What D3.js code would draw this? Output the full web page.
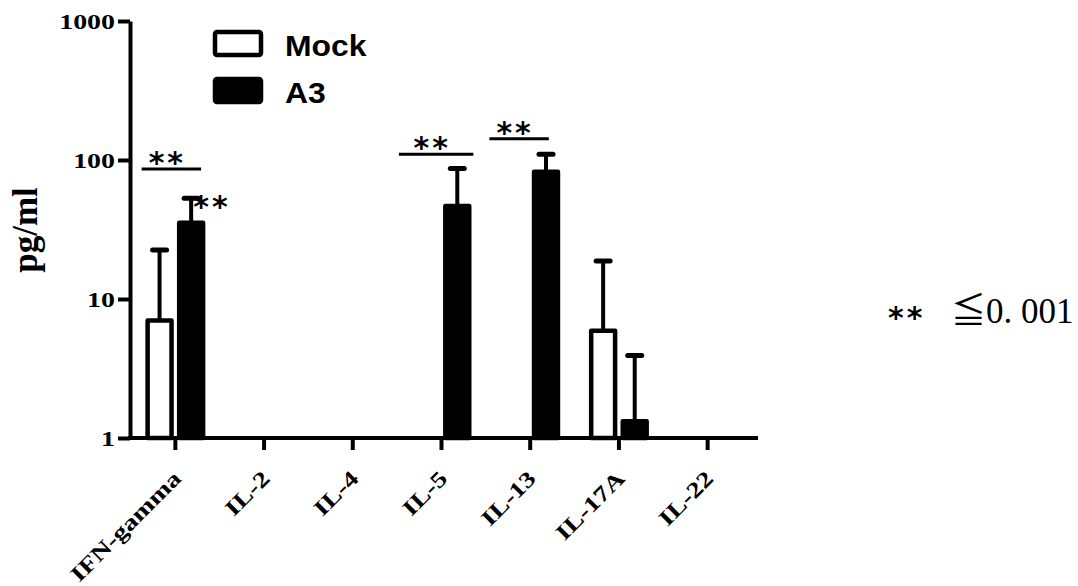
<!DOCTYPE html>
<html>
<head>
<meta charset="utf-8">
<script src="https://cdn.jsdelivr.net/npm/d3@7"></script>
<style>
  body { margin: 0; background: #fff; }
  svg { display: block; }
</style>
</head>
<body>
<div id="chart"></div>
<script>
// data
var categories = ["IFN-gamma", "IL-2", "IL-4", "IL-5", "IL-13", "IL-17A", "IL-22"];
var series = ["Mock", "A3"];
var mockMean = [7.0, null, null, null, null, 5.9, null];
var mockSD = [15.5, null, null, null, null, 12.9, null];
var a3Mean = [35.4, null, null, 46.7, 82.4, 1.32, null];
var a3SD = [17.6, null, null, 40.3, 27.6, 2.6, null];
var yTicks = [1, 10, 100, 1000];

// significance marks: category, level of the line (pg/ml), left/right extent in band steps
var sigBars = [
  { cat: "IFN-gamma", level: 86, from: -0.38, to: 0.29 },
  { cat: "IL-5", level: 110, from: -0.48, to: 0.36 },
  { cat: "IL-13", level: 142, from: -0.46, to: 0.21 }
];
var sigLabel = "**";
var noteText = "\u2266" + "0. 001";

var svgWidth = 1078, svgHeight = 586;

var svg = d3.select("#chart").append("svg")
  .attr("width", svgWidth)
  .attr("height", svgHeight);

var x = d3.scaleBand().domain(categories).range([131, 752]);
var xSub = d3.scaleBand().domain(series).range([-30, 30]).paddingInner(0.1);
var y = d3.scaleLog().domain([1, 1000]).range([438, 21]);

var serif = "'Liberation Serif', 'Times New Roman', serif";
var sans = "'Liberation Sans', Arial, sans-serif";
var starFont = "'DejaVu Sans', sans-serif";
var wide = 1.27; // the original fonts are drawn wider than normal

// y axis
var yAxis = svg.append("g")
  .attr("transform", "translate(130,0)")
  .call(d3.axisLeft(y).tickValues(yTicks).tickFormat(d3.format("d")).tickSize(12).tickSizeOuter(0).tickPadding(3));
yAxis.select(".domain").attr("stroke-width", 4).attr("stroke", "#000");
yAxis.selectAll(".tick line").attr("stroke-width", 4).attr("stroke", "#000");
yAxis.selectAll(".tick text")
  .attr("font-family", serif)
  .attr("font-weight", "bold")
  .attr("font-size", 22)
  .attr("fill", "#000")
  .attr("x", -15 / wide)
  .attr("transform", "scale(" + wide + ",1)");

// x axis
var xAxis = svg.append("g")
  .attr("transform", "translate(0,438)")
  .call(d3.axisBottom(x).tickSize(12).tickSizeOuter(0));
xAxis.select(".domain").remove();
xAxis.append("line")
  .attr("x1", 128).attr("x2", 758)
  .attr("stroke", "#000").attr("stroke-width", 4);
xAxis.selectAll(".tick line").attr("stroke-width", 4).attr("stroke", "#000");
xAxis.selectAll(".tick text")
  .attr("font-family", serif)
  .attr("font-weight", "bold")
  .attr("font-size", 22)
  .attr("fill", "#000")
  .attr("text-anchor", "end")
  .attr("dy", null)
  .attr("y", 0)
  .attr("transform", "translate(7,42) rotate(-45) scale(" + wide + ",1)");

// bars
var rows = categories.map(function(c, i) {
  return [
    { cat: c, s: "Mock", mean: mockMean[i], sd: mockSD[i] },
    { cat: c, s: "A3", mean: a3Mean[i], sd: a3SD[i] }
  ];
}).flat().filter(function(d) { return d.mean != null; });

var sw = 4.5;
var bars = svg.append("g");
bars.selectAll("rect")
  .data(rows)
  .enter()
  .append("rect")
  .attr("x", function(d) { return x(d.cat) + x.bandwidth() / 2 + xSub(d.s) + sw / 2; })
  .attr("width", xSub.bandwidth() - sw)
  .attr("y", function(d) { return y(d.mean); })
  .attr("height", function(d) { return y(1) - y(d.mean); })
  .attr("fill", function(d) { return d.s === "Mock" ? "#fff" : "#000"; })
  .attr("stroke", "#000")
  .attr("stroke-width", sw)
  .attr("stroke-linejoin", "round");

// error bars
var errs = svg.append("g").attr("stroke", "#000").attr("stroke-linecap", "round");
rows.forEach(function(d) {
  var cx = x(d.cat) + x.bandwidth() / 2 + xSub(d.s) + xSub.bandwidth() / 2;
  errs.append("line")
    .attr("x1", cx).attr("x2", cx)
    .attr("y1", y(d.mean)).attr("y2", y(d.mean + d.sd))
    .attr("stroke-width", 4);
  errs.append("line")
    .attr("x1", cx - 7).attr("x2", cx + 7)
    .attr("y1", y(d.mean + d.sd)).attr("y2", y(d.mean + d.sd))
    .attr("stroke-width", 5);
});

// significance lines
var sig = svg.append("g");
sigBars.forEach(function(b) {
  var c = x(b.cat) + x.bandwidth() / 2;
  var x1 = c + b.from * x.step(), x2 = c + b.to * x.step();
  sig.append("line")
    .attr("x1", x1).attr("x2", x2)
    .attr("y1", y(b.level)).attr("y2", y(b.level))
    .attr("stroke", "#000").attr("stroke-width", 3);
  sig.append("text")
    .attr("x", (x1 + x2) / 2 - 4)
    .attr("y", y(b.level) + 4)
    .attr("text-anchor", "middle")
    .attr("font-family", starFont)
    .attr("font-weight", "bold")
    .attr("font-size", 30)
    .attr("letter-spacing", 3)
    .text(sigLabel);
});
// extra stars beside IFN-gamma A3 error bar
var ifnTop = a3Mean[0] + a3SD[0];
sig.append("text")
  .attr("x", x("IFN-gamma") + x.bandwidth() / 2 + 18)
  .attr("y", y(ifnTop) + 19)
  .attr("font-family", starFont)
  .attr("font-weight", "bold")
  .attr("font-size", 30)
  .attr("letter-spacing", 3)
  .text(sigLabel);

// y label
svg.append("text")
  .attr("transform", "translate(37,230) rotate(-90)")
  .attr("text-anchor", "middle")
  .attr("font-family", serif)
  .attr("font-weight", "bold")
  .attr("font-size", 35)
  .text("pg/ml");

// legend
var legend = svg.append("g");
series.forEach(function(s, i) {
  legend.append("rect")
    .attr("x", 215).attr("y", 32 + i * 47)
    .attr("width", 46).attr("height", 23)
    .attr("rx", 2)
    .attr("fill", s === "Mock" ? "#fff" : "#000")
    .attr("stroke", "#000").attr("stroke-width", sw);
  legend.append("text")
    .attr("transform", "translate(285," + (56 + i * 47) + ") scale(1.1,1)")
    .attr("font-family", sans)
    .attr("font-weight", "bold")
    .attr("font-size", 29)
    .text(s);
});

// note on the right
svg.append("text")
  .attr("x", 888).attr("y", 328)
  .attr("font-family", starFont)
  .attr("font-weight", "bold")
  .attr("font-size", 30)
  .attr("letter-spacing", 3)
  .text(sigLabel);
svg.append("text")
  .attr("x", 951).attr("y", 323)
  .attr("font-family", serif + ", 'Noto Sans CJK SC'")
  .attr("font-size", 35)
  .text(noteText);
</script>
</body>
</html>
